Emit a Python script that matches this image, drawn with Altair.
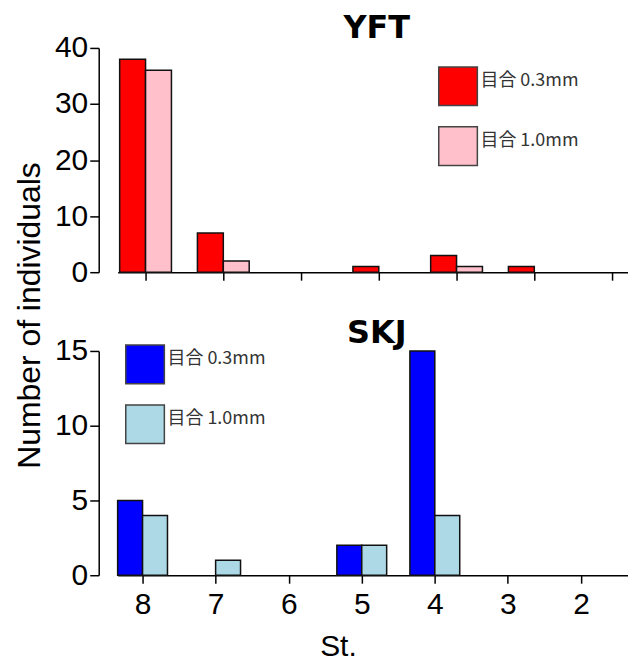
import altair as alt
import pandas as pd

stations = [8, 7, 6, 5, 4, 3, 2]
mesh_labels = ["目合 0.3mm", "目合 1.0mm"]
yft_03 = [38, 7, 0, 1, 3, 1, 0]
yft_10 = [36, 2, 0, 0, 1, 0, 0]
skj_03 = [5, 0, 0, 2, 15, 0, 0]
skj_10 = [4, 1, 0, 2, 4, 0, 0]
yft_colors = ["#ff0000", "#ffc0cb"]
skj_colors = ["#0000ff", "#add8e6"]
yft_ticks = [0, 10, 20, 30, 40]
skj_ticks = [0, 5, 10, 15]


def make_df(a, b):
    rows = []
    for s, v in zip(stations, a):
        rows.append({"st": s, "mesh": mesh_labels[0], "n": v, "k": 0})
    for s, v in zip(stations, b):
        rows.append({"st": s, "mesh": mesh_labels[1], "n": v, "k": 1})
    return pd.DataFrame(rows)


FONT = "Liberation Sans"
W, H = 512, 225


def panel(df, title, title_y, ymax, yticks, colors, xdomain, barw,
          legend_xy, bottom):
    x_axis = alt.Axis(
        values=stations, tickSize=8, tickColor="black", tickWidth=1.5,
        domainColor="black", domainWidth=1.5, grid=False,
        labels=bottom, labelFontSize=30, labelFont=FONT, labelColor="black",
        labelPadding=6,
        title="St." if bottom else None, titleFontSize=30, titleFont=FONT,
        titleFontWeight="normal", titleColor="black", titleX=221, titlePadding=13,
    )
    y_kw = dict(
        values=yticks, tickSize=9, tickColor="black", tickWidth=1.5,
        domainColor="black", domainWidth=1.5, grid=False, offset=19,
        labelFontSize=30, labelFont=FONT, labelColor="black", labelPadding=2,
    )
    if bottom:
        y_axis = alt.Axis(title=None, **y_kw)
    else:
        y_axis = alt.Axis(
            title="Number of individuals", titleFontSize=32, titleFont=FONT,
            titleFontWeight="normal", titleColor="black", titleY=268,
            titlePadding=8, **y_kw,
        )
    bars = (
        alt.Chart(df)
        .transform_filter("datum.n > 0")
        .transform_calculate(
            x0=f"datum.st + {barw} * (1 - datum.k)",
            x1=f"datum.st - {barw} * datum.k",
        )
        .mark_bar(stroke="#111", strokeWidth=1.5)
        .encode(
            x=alt.X("x0:Q", scale=alt.Scale(domain=xdomain, nice=False, zero=False),
                    axis=x_axis),
            x2="x1:Q",
            y=alt.Y("n:Q", scale=alt.Scale(domain=[0, ymax], nice=False), axis=y_axis),
            y2=alt.datum(0),
            color=alt.Color(
                "mesh:N",
                scale=alt.Scale(domain=mesh_labels, range=colors),
                legend=alt.Legend(
                    orient="none", legendX=legend_xy[0], legendY=legend_xy[1],
                    title=None, symbolType="square", symbolSize=1500,
                    symbolStrokeColor="#444", symbolStrokeWidth=1.5,
                    symbolOpacity=1,
                    labelFontSize=18, labelFont="Noto Sans CJK JP",
                    labelColor="#333", labelBaseline="alphabetic",
                    rowPadding=15, padding=0, labelOffset=2,
                ),
            ),
        )
    )
    label = (
        alt.Chart(pd.DataFrame({"t": [title]}))
        .mark_text(font="DejaVu Sans", fontSize=32, fontWeight="bold",
                   align="center", baseline="alphabetic", color="black")
        .encode(text="t:N", x=alt.value(260), y=alt.value(title_y))
    )
    return alt.layer(bars, label).properties(width=W, height=H)


top = panel(make_df(yft_03, yft_10), "YFT", -10, 40, yft_ticks, yft_colors,
            [8.359, 1.795], 0.333, (321, 18), False)
bottom = panel(make_df(skj_03, skj_10), "SKJ", -8, 15, skj_ticks, skj_colors,
               [8.341, 1.356], 0.341, (7, -7), True)

chart = (
    alt.vconcat(top, bottom, spacing=79, bounds="flush")
    .resolve_scale(color="independent", x="independent", y="independent")
    .properties(padding={"left": 5, "top": 3, "right": 0, "bottom": 0})
    .configure(background="white", view=alt.ViewConfig(stroke=None, strokeWidth=0))
)

chart.save("out.html", embed_options={"renderer": "svg", "actions": False})
